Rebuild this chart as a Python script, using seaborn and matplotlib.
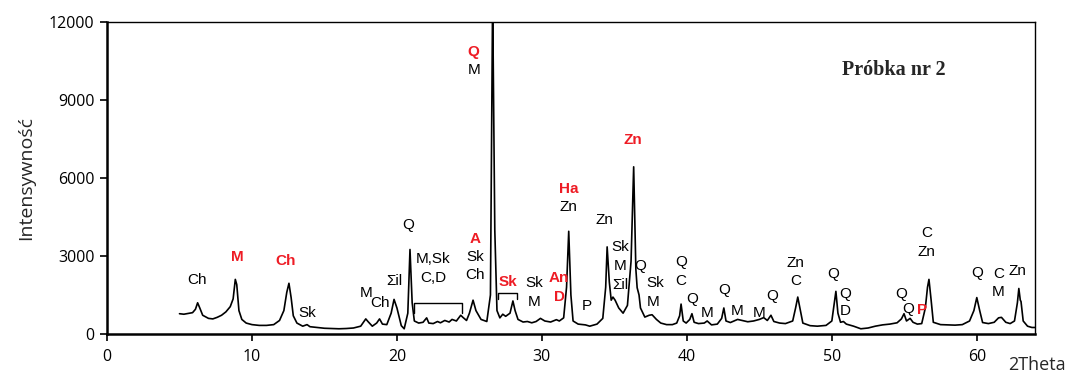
import matplotlib
matplotlib.use("Agg")
import matplotlib.pyplot as plt
import seaborn as sns
import pandas as pd

# Diffraction pattern, sample no. 2 (2-theta in degrees, intensity in counts)
two_theta = [
    5.0, 5.3, 5.6, 5.9, 6.1, 6.25, 6.4, 6.6, 7.0, 7.3, 7.6, 7.9, 8.2, 8.5, 8.7,
    8.85, 8.95, 9.1, 9.3, 9.6, 10.0, 10.5, 11.0, 11.5, 11.9, 12.2, 12.4, 12.55,
    12.7, 12.85, 13.1, 13.5, 13.8, 14.0, 14.5, 15.0, 15.5, 16.0, 16.5, 17.0,
    17.5, 17.85, 18.0, 18.3, 18.6, 18.8, 19.0, 19.3, 19.6, 19.8, 20.0, 20.3,
    20.5, 20.75, 20.9, 21.05, 21.2, 21.5, 21.8, 22.05, 22.2, 22.5, 22.8, 23.0,
    23.3, 23.6, 23.8, 24.1, 24.4, 24.55, 24.8, 25.0, 25.25, 25.45, 25.8, 26.2,
    26.45, 26.6, 26.75, 26.9, 27.1, 27.3, 27.5, 27.8, 28.0, 28.15, 28.35, 28.7,
    29.0, 29.3, 29.6, 29.9, 30.2, 30.6, 31.0, 31.2, 31.5, 31.7, 31.85, 32.0,
    32.15, 32.5, 33.0, 33.3, 33.8, 34.2, 34.4, 34.5, 34.65, 34.78, 34.9, 35.05,
    35.3, 35.6, 35.9, 36.15, 36.33, 36.48, 36.57, 36.7, 36.8, 37.1, 37.4, 37.6,
    37.9, 38.2, 38.6, 39.0, 39.3, 39.5, 39.6, 39.75, 39.95, 40.2, 40.35, 40.5,
    40.8, 41.2, 41.4, 41.7, 42.1, 42.4, 42.55, 42.7, 43.0, 43.5, 43.8, 44.2,
    44.6, 45.0, 45.3, 45.55, 45.8, 46.0, 46.4, 46.8, 47.3, 47.5, 47.65, 47.8,
    48.0, 48.5, 49.0, 49.6, 50.0, 50.15, 50.28, 50.42, 50.6, 50.8, 51.0, 51.5,
    52.0, 52.5, 53.0, 53.5, 54.0, 54.5, 54.8, 54.98, 55.15, 55.4, 55.6, 55.9,
    56.2, 56.45, 56.6, 56.7, 56.85, 57.0, 57.5, 58.0, 58.5, 59.0, 59.5, 59.8,
    60.0, 60.2, 60.4, 60.8, 61.2, 61.5, 61.7, 62.0, 62.3, 62.6, 62.8, 62.9,
    63.0, 63.05, 63.2, 63.5, 63.8, 64.0,
]
intensity = [
    780, 760, 790, 820, 950, 1200, 1000, 720, 600, 580, 640, 720, 850, 1050, 1350,
    2100, 1900, 900, 560, 420, 360, 330, 330, 360, 520, 900, 1600, 1950,
    1400, 700, 420, 300, 360, 280, 250, 220, 210, 200, 210, 230,
    300, 580, 480, 300, 420, 580, 380, 360, 800, 1330, 1000, 320,
    200, 800, 3250, 1200, 500, 420, 450, 620, 420, 400, 480, 430,
    520, 460, 560, 500, 720, 640, 520, 800, 1300, 900, 560, 480,
    1500, 13000, 4000, 900, 620, 760, 680, 800, 1270, 900, 560, 460,
    480, 430, 480, 600, 500, 460, 550, 500, 620, 1800, 3950, 1500,
    500, 380, 350, 300, 380, 600, 1800, 3350, 2000, 1300, 1420, 1300,
    1000, 800, 1100, 2800, 6430, 2500, 1780, 1500, 1000, 650, 720, 740,
    560, 420, 360, 360, 420, 700, 1150, 500, 420, 560, 780, 450,
    400, 420, 500, 350, 380, 600, 1000, 500, 440, 560, 520, 470,
    500, 560, 630, 520, 720, 480, 420, 400, 500, 1000, 1420, 1000,
    420, 320, 300, 330, 500, 1100, 1640, 800, 450, 480, 380, 300,
    200, 230, 300, 350, 380, 430, 580, 780, 500, 600, 450, 380,
    400, 1000, 1800, 2100, 1300, 450, 360, 350, 340, 360, 500, 900,
    1400, 900, 440, 400, 450, 620, 640, 450, 400, 500, 1200, 1750,
    1300, 1250, 500, 300, 250, 250,
]

# Phase labels: (text, 2-theta, intensity, highlighted)
phase_labels = [
    ("Ch", 6.2, 2080, False), ("M", 8.97, 2960, True), ("Ch", 12.3, 2810, True),
    ("Sk", 13.8, 810, False), ("M", 17.86, 1580, False), ("Ch", 18.83, 1200, False),
    ("Σil", 19.8, 2040, False), ("Q", 20.8, 4190, False),
    ("M,Sk", 22.5, 2880, False), ("C,D", 22.5, 2160, False),
    ("A", 25.4, 3650, True), ("Sk", 25.4, 2960, False), ("Ch", 25.4, 2270, False),
    ("Q", 25.3, 10850, True), ("M", 25.3, 10150, False),
    ("Sk", 27.65, 2000, True), ("Sk", 29.45, 1960, False), ("M", 29.45, 1230, False),
    ("An", 31.2, 2160, True), ("D", 31.2, 1430, True),
    ("Ha", 31.86, 5570, True), ("Zn", 31.86, 4880, False),
    ("P", 33.1, 1080, False), ("Zn", 34.3, 4380, False),
    ("Sk", 35.4, 3340, False), ("M", 35.4, 2620, False), ("Σil", 35.4, 1880, False),
    ("Zn", 36.3, 7460, True), ("Q", 36.75, 2620, False),
    ("Sk", 37.85, 1960, False), ("M", 37.65, 1230, False),
    ("Q", 39.6, 2770, False), ("C", 39.6, 2040, False), ("Q", 40.35, 1350, False),
    ("M", 41.4, 800, False), ("Q", 42.55, 1690, False), ("M", 43.45, 880, False),
    ("M", 44.95, 810, False), ("Q", 45.86, 1460, False),
    ("Zn", 47.5, 2730, False), ("C", 47.5, 2040, False), ("Q", 50.1, 2310, False),
    ("Q", 50.95, 1540, False), ("D", 50.95, 880, False),
    ("Q", 54.8, 1540, False), ("Q", 55.25, 960, False), ("P", 56.2, 920, True),
    ("C", 56.55, 3880, False), ("Zn", 56.55, 3150, False),
    ("Q", 60.05, 2350, False), ("C", 61.5, 2310, False), ("M", 61.5, 1600, False),
    ("Zn", 62.8, 2420, False),
]

# Grouped ranges marked with a bracket: (start, end, level, drop)
brackets = [(21.2, 24.5, 1200, 390), (27.0, 28.3, 1570, 220)]

x_ticks = [0, 10, 20, 30, 40, 50, 60]
y_ticks = [0, 3000, 6000, 9000, 12000]

sns.set_style("ticks")
plt.rcParams["font.family"] = ["Open Sans", "DejaVu Sans"]

fig = plt.figure(figsize=(10.68, 3.72), dpi=100)
ax = fig.add_axes([0.1002, 0.1022, 0.8687, 0.8387])

df = pd.DataFrame({"2Theta": two_theta, "I": intensity})
sns.lineplot(data=df, x="2Theta", y="I", ax=ax, color="black", linewidth=1.2,
             estimator=None, sort=False)

ax.set_xlim(0, 64)
ax.set_ylim(0, 12000)
ax.set_xticks(x_ticks)
ax.set_yticks(y_ticks)
ax.tick_params(axis="both", direction="out", length=5, width=1.2,
               labelsize=11.5, colors="black")
ax.tick_params(axis="x", pad=6)
ax.tick_params(axis="y", pad=4)
for side in ["left", "bottom", "top", "right"]:
    ax.spines[side].set_visible(True)
    ax.spines[side].set_color("black")
ax.spines["left"].set_linewidth(1.8)
ax.spines["bottom"].set_linewidth(1.8)
ax.spines["top"].set_linewidth(1.0)
ax.spines["right"].set_linewidth(1.0)

ax.set_xlabel("")
ax.set_ylabel("Intensywność", fontsize=14, labelpad=10)

red = "#ee1c25"
for text, x, y, hot in phase_labels:
    ax.text(x, y, text, ha="center", va="center", fontsize=11,
            family=["Liberation Sans", "DejaVu Sans"],
            color=red if hot else "black",
            fontweight="bold" if hot else "normal")

for x0, x1, level, drop in brackets:
    ax.plot([x0, x0, x1, x1], [level - drop, level, level, level - drop],
            color="black", linewidth=1.0, clip_on=False)

ax.text(54.3, 10150, "Próbka nr 2", ha="center", va="center", fontsize=14.5,
        fontweight="bold", family=["Liberation Serif", "DejaVu Serif"])

fig.text(1008 / 1068, 1 - 365 / 372, "2Theta", ha="left", va="center",
         fontsize=13)

fig.savefig("out.png", dpi=100)
